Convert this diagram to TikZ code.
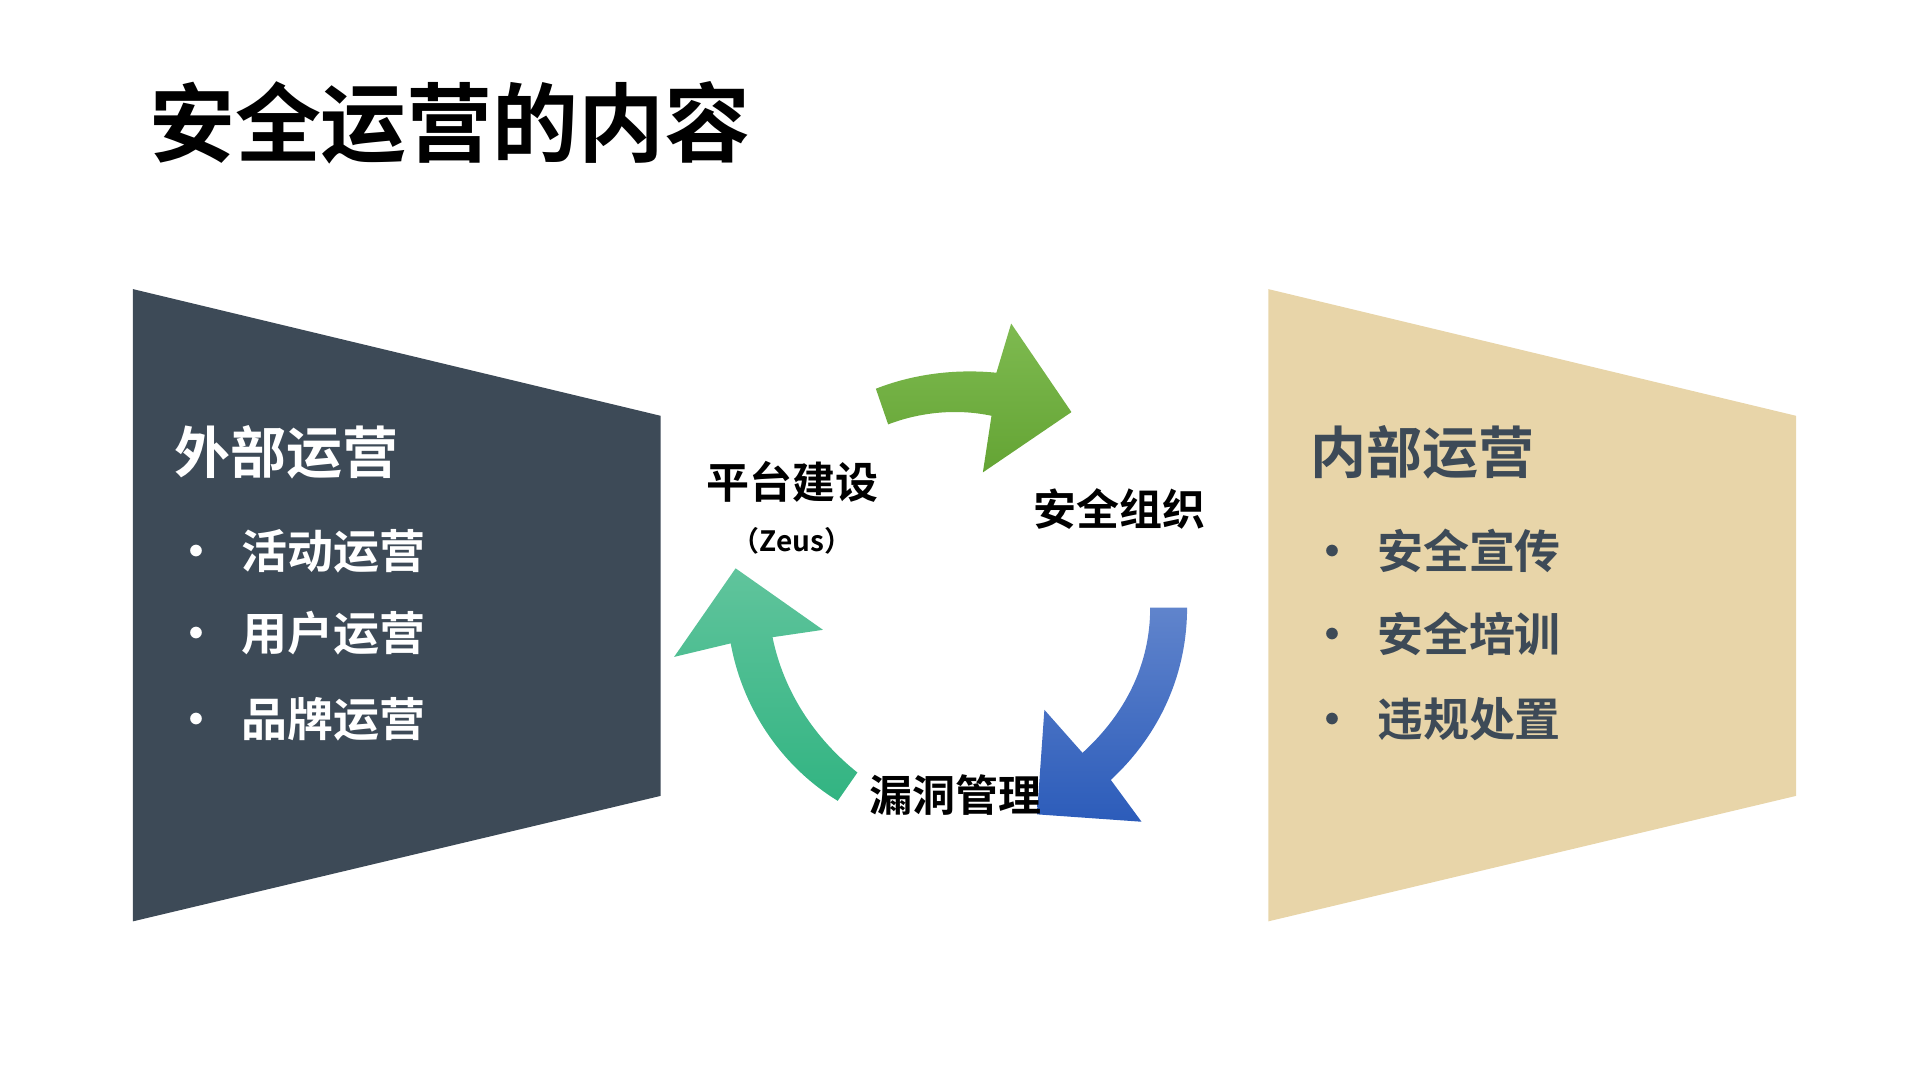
\documentclass[tikz,border=0pt]{standalone}
\usepackage{fontspec}
\setmainfont{Noto Sans CJK SC Bold}
\definecolor{darkbg}{HTML}{3D4A57}
\definecolor{tanbg}{HTML}{E8D5A9}
\begin{document}
\begin{tikzpicture}[x=1.2305pt,y=-1.2305pt,
  tw/.style={inner sep=0pt,anchor=west},
  lab/.style={inner sep=0pt,font=\fontsize{43}{43}\selectfont},
  bul/.style={inner sep=0pt,anchor=west,font=\fontsize{46}{46}\selectfont}]
\useasboundingbox (0,0) rectangle (1560,877);
% panels
\fill[darkbg] (108,235) -- (537,338) -- (537,647) -- (108,749) -- cycle;
\fill[tanbg] (1031,235) -- (1460,338) -- (1460,647) -- (1031,749) -- cycle;
% title
\node[tw,font=\fontsize{86}{86}\selectfont] (title) at (121,100) {安全运营的内容};
% left panel texts
\node[tw,text=white,font=\fontsize{56}{56}\selectfont] (lh) at (142,368) {外部运营};
\node[bul,text=white] (l1) at (141,448) {•\hspace{22pt}活动运营};
\node[bul,text=white] (l2) at (141,515) {•\hspace{22pt}用户运营};
\node[bul,text=white] (l3) at (141,585) {•\hspace{22pt}品牌运营};
% right panel texts
\node[tw,text=darkbg,font=\fontsize{56}{56}\selectfont] (rh) at (1065,368) {内部运营};
\node[bul,text=darkbg] (r1) at (1064,448) {•\hspace{22pt}安全宣传};
\node[bul,text=darkbg] (r2) at (1064,515) {•\hspace{22pt}安全培训};
\node[bul,text=darkbg] (r3) at (1064,585) {•\hspace{22pt}违规处置};
% arrows
\shade[top color={rgb,255:red,126;green,186;blue,80},bottom color={rgb,255:red,100;green,164;blue,52}]
  (712,316) .. controls (745,303) and (780,300) .. (810,303) -- (822,263) -- (871,335) -- (799,384)
  -- (806,338) .. controls (778,332) and (748,335) .. (722,345) -- cycle;
\shade[top color={rgb,255:red,96;green,132;blue,204},bottom color={rgb,255:red,44;green,92;blue,186}]
  (935,494) .. controls (935,540) and (915,580) .. (880,612) -- (849,577) -- (843,662) -- (928,668)
  -- (903,634) .. controls (945,595) and (965,545) .. (965,494) -- cycle;
\shade[top color={rgb,255:red,96;green,196;blue,156},bottom color={rgb,255:red,50;green,180;blue,130}]
  (697,628) .. controls (662,600) and (637,562) .. (628,518) -- (669,512) -- (598,462) -- (548,534)
  -- (594,523) .. controls (604,578) and (637,624) .. (681,651) -- cycle;
% cycle labels
\node[lab] (p1) at (644,392) {平台建设};
\node[inner sep=0pt,font=\fontsize{28}{28}\selectfont] (p1b) at (644,440) {（Zeus）};
\node[lab] (p2) at (910,414) {安全组织};
\node[lab] (p3) at (777,646) {漏洞管理};
\end{tikzpicture}
\end{document}
